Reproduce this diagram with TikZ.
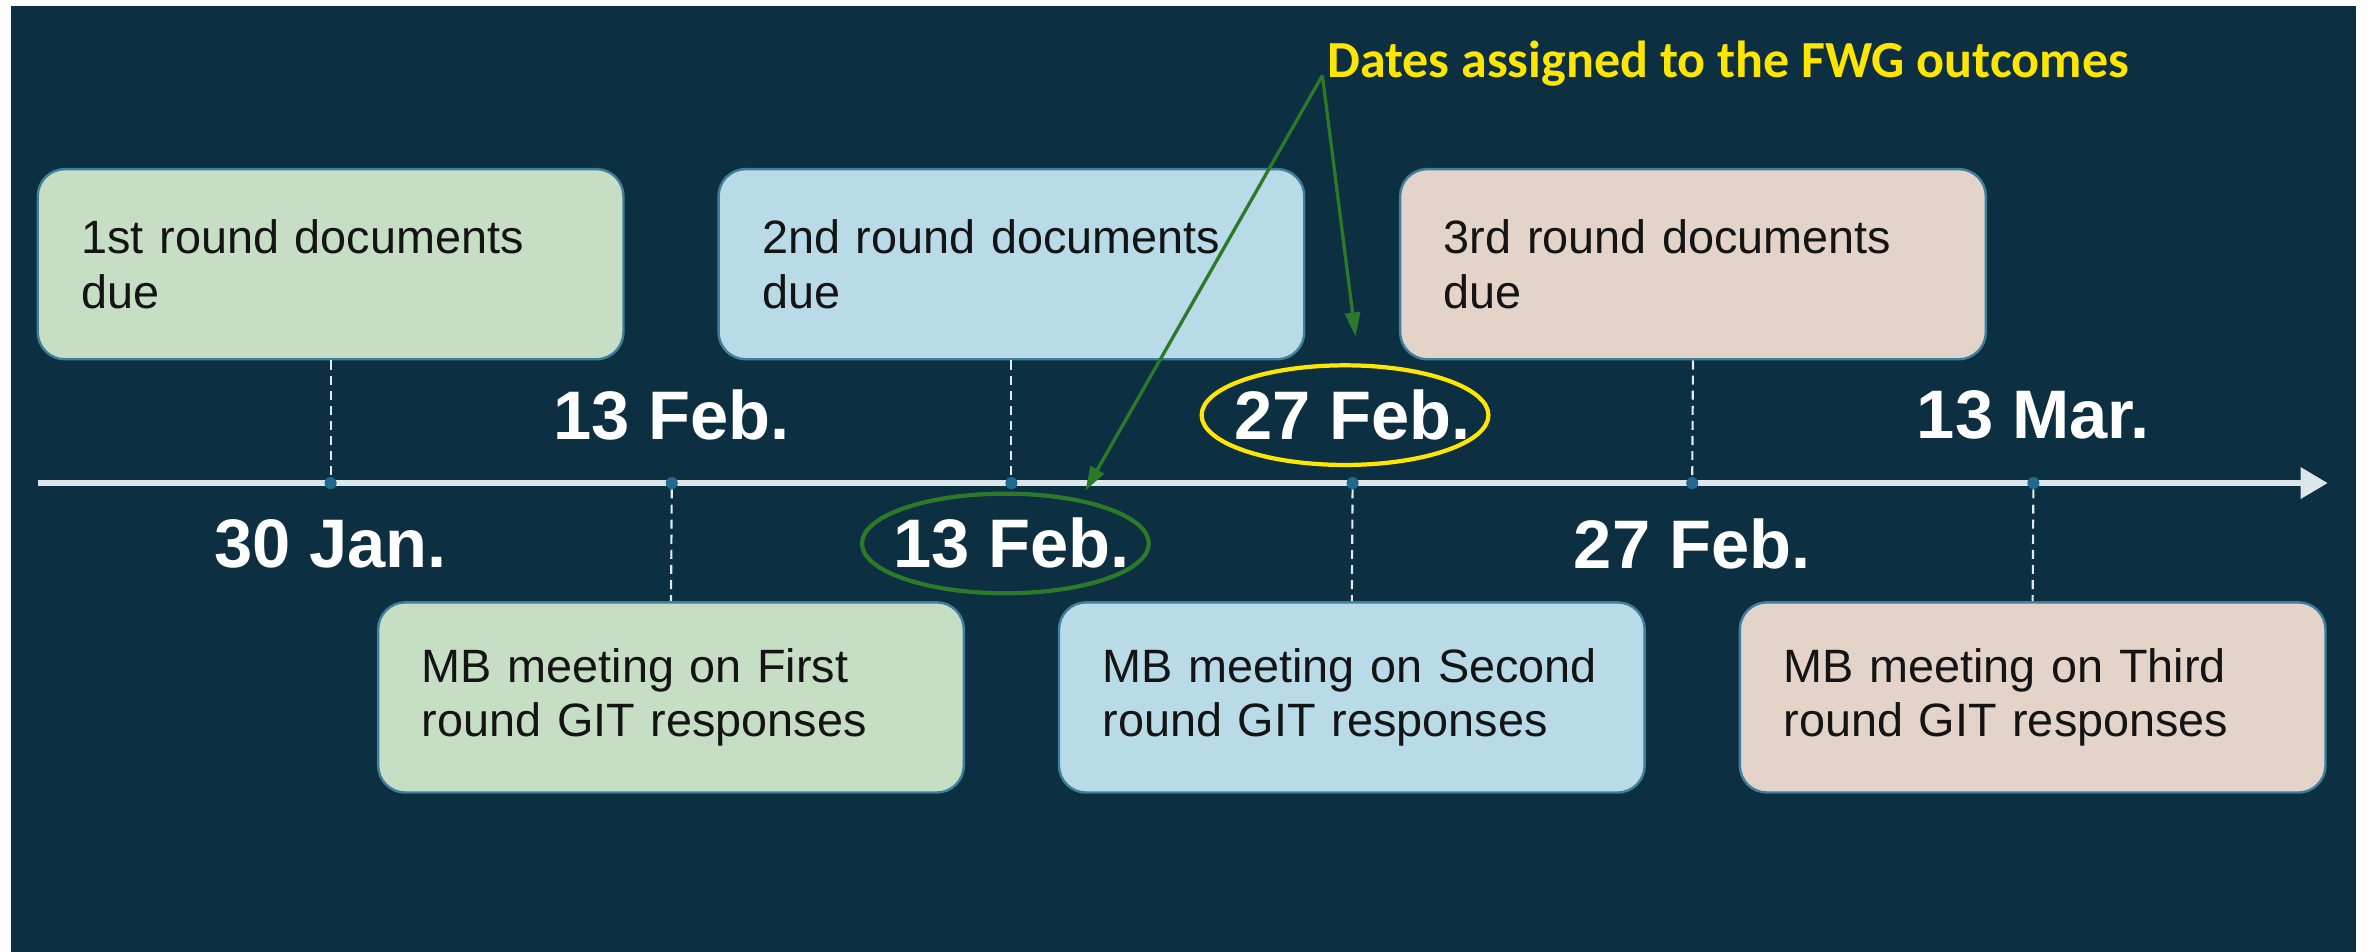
\documentclass[tikz,border=0pt]{standalone}
\usepackage{fontspec}
\setmainfont{Liberation Sans}
\newfontfamily\annfont{Carlito}
\usetikzlibrary{arrows.meta,shapes.geometric}
\definecolor{bgdark}{HTML}{0C2F42}
\definecolor{boxgreen}{HTML}{C6DFC4}
\definecolor{boxblue}{HTML}{B8DBE7}
\definecolor{boxbeige}{HTML}{E3D3C8}
\definecolor{boxedge}{HTML}{3F7F9C}
\definecolor{axiscol}{HTML}{DDE6EB}
\definecolor{tickcol}{HTML}{1F6A8E}
\definecolor{annyellow}{HTML}{FFE600}
\definecolor{anngreen}{HTML}{2A7A2A}
\definecolor{boxtext}{HTML}{141414}
\begin{document}
\begin{tikzpicture}[x=1pt,y=-1pt,
  evbox/.style={draw=boxedge, line width=1.6pt, rounded corners=18pt,
    minimum width=388pt, minimum height=126pt, inner sep=0pt,
    text width=330pt, align=left, text=boxtext,
    font=\fontsize{31}{36}\selectfont},
  datelbl/.style={text=white, font=\fontsize{45.5}{50}\selectfont\bfseries, inner sep=0pt},
  guide/.style={draw=axiscol!85, line width=1.4pt, dash pattern=on 6pt off 4pt},
  tickdot/.style={circle, fill=tickcol, inner sep=0pt, minimum size=8pt},
  ringg/.style={ellipse, draw=anngreen, line width=2.8pt, minimum width=190pt, minimum height=66pt},
  ringy/.style={ellipse, draw=annyellow, line width=2.8pt, minimum width=190pt, minimum height=66pt},
  pointer/.style={draw=anngreen, line width=2.2pt, -{Triangle[length=16pt,width=10pt]}}
]
\useasboundingbox (0,0) rectangle (1568,630);
\fill[white] (0,0) rectangle (1568,630);
\fill[bgdark] (7,4) rectangle (1561,632);

% axis
\coordinate (axs) at (25,320);
\coordinate (axe) at (1542,320);
\draw[axiscol, line width=4pt, -{Triangle[length=18pt,width=20pt]}] (axs) -- (axe);

% tick points
\node[tickdot] (t1) at (219,320) {};
\node[tickdot] (t2) at (445,320) {};
\node[tickdot] (t3) at (670,320) {};
\node[tickdot] (t4) at (896,320) {};
\node[tickdot] (t5) at (1121,320) {};
\node[tickdot] (t6) at (1347,320) {};

% boxes
\node[evbox, fill=boxgreen] (b1) at (219,175) {1st round documents\\due};
\node[evbox, fill=boxblue] (b2) at (670,175) {2nd round documents\\due};
\node[evbox, fill=boxbeige] (b3) at (1121.5,175) {3rd round documents\\due};
\node[evbox, fill=boxgreen] (b4) at (444.5,462) {MB meeting on First\\round GIT responses};
\node[evbox, fill=boxblue] (b5) at (895.5,462) {MB meeting on Second\\round GIT responses};
\node[evbox, fill=boxbeige] (b6) at (1346.5,462) {MB meeting on Third\\round GIT responses};

% guides
\draw[guide] (b1.south) -- (t1.north);
\draw[guide] (t2.south) -- (b4.north);
\draw[guide] (b2.south) -- (t3.north);
\draw[guide] (t4.south) -- (b5.north);
\draw[guide] (b3.south) -- (t5.north);
\draw[guide] (t6.south) -- (b6.north);

% dates
\node[datelbl] (d1) at (219,360) {30 Jan.};
\node[datelbl] (d2) at (445,275) {13 Feb.};
\node[datelbl] (d3) at (670,360) {13 Feb.};
\node[datelbl] (d4) at (896,275) {27 Feb.};
\node[datelbl] (d5) at (1121,360) {27 Feb.};
\node[datelbl] (d6) at (1347,275) {13 Mar.};

% annotation
\node[ringy] (ey) at (891,275) {};
\node[ringg] (eg) at (666,360) {};
\node[anchor=west, text=annyellow, inner sep=0pt, font=\annfont\bfseries\fontsize{34.5}{40}\selectfont] (ann) at (879,42) {Dates assigned to the FWG outcomes};
\coordinate (src) at (876,50);
\coordinate (tipa) at (719,325);
\coordinate (tipb) at (898,223);
\draw[pointer] (src) -- (tipa);
\draw[pointer] (src) -- (tipb);
\end{tikzpicture}
\end{document}
